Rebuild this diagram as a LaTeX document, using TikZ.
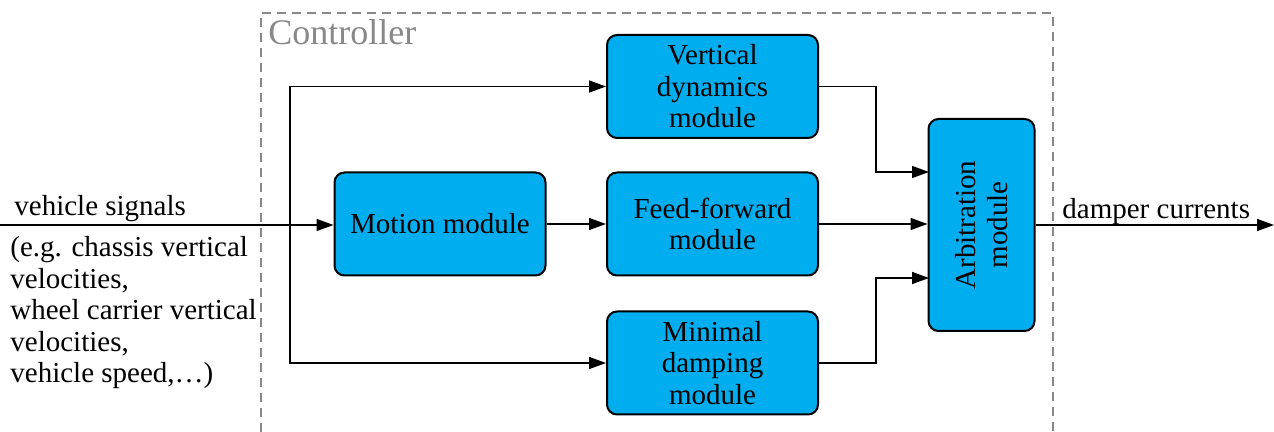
\documentclass[tikz,border=0pt]{standalone}
\usepackage{fontspec}
\setmainfont{Liberation Serif}
\usetikzlibrary{arrows.meta,calc}
\definecolor{modfill}{RGB}{0,174,239}
\definecolor{framegray}{RGB}{136,136,136}
\newcommand{\txtsize}{\fontsize{14.5}{15.75}\selectfont}
\tikzset{
  module/.style={draw=black, line width=1pt, fill=modfill, rounded corners=5pt,
    minimum width=105.5pt, minimum height=51.5pt, align=center, inner sep=2pt,
    font=\txtsize},
  sig/.style={line width=0.75pt, -{Triangle[length=8.5pt,width=6pt]}},
  lbl/.style={font=\txtsize, inner sep=0pt},
}
\begin{document}
\begin{tikzpicture}[x=0.5pt,y=-0.5pt]
\useasboundingbox (0,0) rectangle (1274,432);

% controller frame (open at the bottom)
\draw[framegray, line width=0.6pt, dash pattern=on 4.5pt off 3pt]
  (261,432) -- (261,13) -- (1053,13) -- (1053,432);
\node[anchor=north west, text=framegray, inner sep=0pt,
      font=\fontsize{18}{20}\selectfont] (ctl) at (268,19) {Controller};

% modules
\node[module] (vd)  at (712.5,86.5)  {Vertical\\dynamics\\module};
\node[module] (mot) at (440,224)     {Motion module};
\node[module] (ff)  at (712.5,224)   {Feed-forward\\module};
\node[module] (md)  at (712.5,363)   {Minimal\\damping\\module};
\node[module, minimum width=53pt, minimum height=106pt] (arb) at (981.5,225) {};
\node[rotate=90, align=center, font=\txtsize] (arbtxt)
  at (arb.center) {Arbitration\\module};

% input signals
\coordinate (in)    at (0,225);
\coordinate (split) at (290,225);
\draw[sig] (in) -- (mot.west |- in);
\draw[sig] (split) |- (vd.west);
\draw[sig] (split) |- (md.west);
\node[lbl, anchor=base west] (vs) at (14,216) {vehicle signals};
\node[lbl, anchor=north west, align=left] (vsx) at (10,236)
  {(e.g. chassis vertical\\velocities,\\wheel carrier vertical\\velocities,\\vehicle speed,\dots)};

% module interconnections
\draw[sig] (mot.east |- ff.west) -- (ff.west);
\coordinate (a1) at (929,172);
\coordinate (a3) at (929,278);
\draw[sig] (vd.east) -| (876,130) |- (a1);
\draw[sig] (ff.east) -- (arb.west |- ff.east);
\draw[sig] (md.east) -| (876,300) |- (a3);

% output
\coordinate (out) at (1274,225);
\draw[sig] (arb.east |- out) -- (out);
\node[lbl, anchor=base west] (dc) at (1062,219) {damper currents};
\end{tikzpicture}
\end{document}
